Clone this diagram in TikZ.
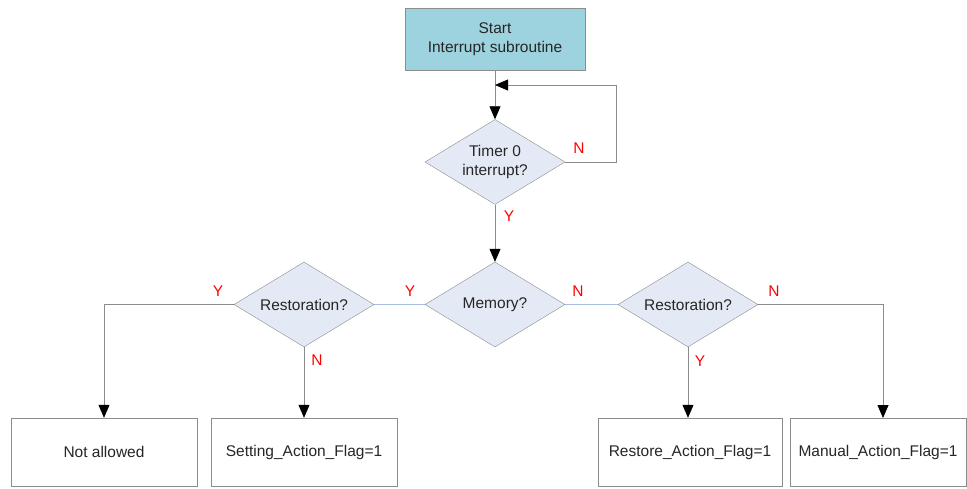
\documentclass[tikz,border=0pt]{standalone}
\usepackage{fontspec}
\setmainfont{Liberation Sans}
\usetikzlibrary{shapes.geometric,arrows.meta}
\definecolor{startfill}{HTML}{9DD3DE}
\definecolor{diafill}{HTML}{E4EAF5}
\definecolor{edge}{HTML}{8C8C8C}
\definecolor{blueline}{HTML}{A8BEE0}
\definecolor{lblred}{HTML}{FF0000}
\begin{document}
\begin{tikzpicture}[x=1pt,y=-1pt,
  every node/.style={font=\fontsize{15.5}{19}\selectfont, text=black!85},
  startbox/.style={draw=edge, fill=startfill, minimum width=180pt, minimum height=62pt, align=center, inner sep=0pt},
  dia/.style={diamond, draw=edge, fill=diafill, minimum width=140pt, minimum height=85pt, inner sep=0pt, aspect=1.65, align=center},
  outbox/.style={draw=edge, fill=white, minimum height=68pt, inner sep=0pt},
  conn/.style={draw=edge, line width=0.8pt},
  arr/.style={conn, -{Triangle[length=13pt,width=11pt,color=black]}},
  bconn/.style={draw=blueline, line width=0.8pt},
  lbl/.style={text=lblred, inner sep=0pt}
]
\useasboundingbox (0,0) rectangle (967,489);
\fill[white] (0,0) rectangle (967,489);

\node[startbox] (start) at (495,39) {Start\\Interrupt subroutine};
\node[dia] (timer) at (495,162) {Timer 0\\interrupt?};
\node[dia] (mem) at (495,304.5) {Memory?};
\node[dia] (res1) at (304,304.5) {Restoration?};
\node[dia] (res2) at (688,304.5) {Restoration?};

\node[outbox, minimum width=186pt] (na) at (104,452) {Not allowed};
\node[outbox, minimum width=186pt] (set) at (304,452) {Setting\_Action\_Flag=1};
\node[outbox, minimum width=184pt] (rest) at (690,452) {Restore\_Action\_Flag=1};
\node[outbox, minimum width=176pt] (man) at (878,452) {Manual\_Action\_Flag=1};

\coordinate (loopend) at (495,85);

\draw[arr] (start.south) -- (timer.north);
\draw[arr] (timer.east) -- ++(51,0) |- (loopend);
\draw[arr] (timer.south) -- (mem.north);
\draw[bconn] (mem.west) -- (res1.east);
\draw[bconn] (mem.east) -- (res2.west);
\draw[arr] (res1.west) -| (na.north);
\draw[arr] (res1.south) -- (set.north);
\draw[arr] (res2.south) -- (res2.south |- rest.north);
\draw[arr] (res2.east) -| (883,418);

\node[lbl] (lN1) at (579,148) {N};
\node[lbl] (lY1) at (509,216) {Y};
\node[lbl] (lY2) at (410,291) {Y};
\node[lbl] (lN2) at (578,291) {N};
\node[lbl] (lY3) at (218,291) {Y};
\node[lbl] (lN3) at (317,360) {N};
\node[lbl] (lY4) at (700,361) {Y};
\node[lbl] (lN4) at (774,291) {N};
\end{tikzpicture}
\end{document}
